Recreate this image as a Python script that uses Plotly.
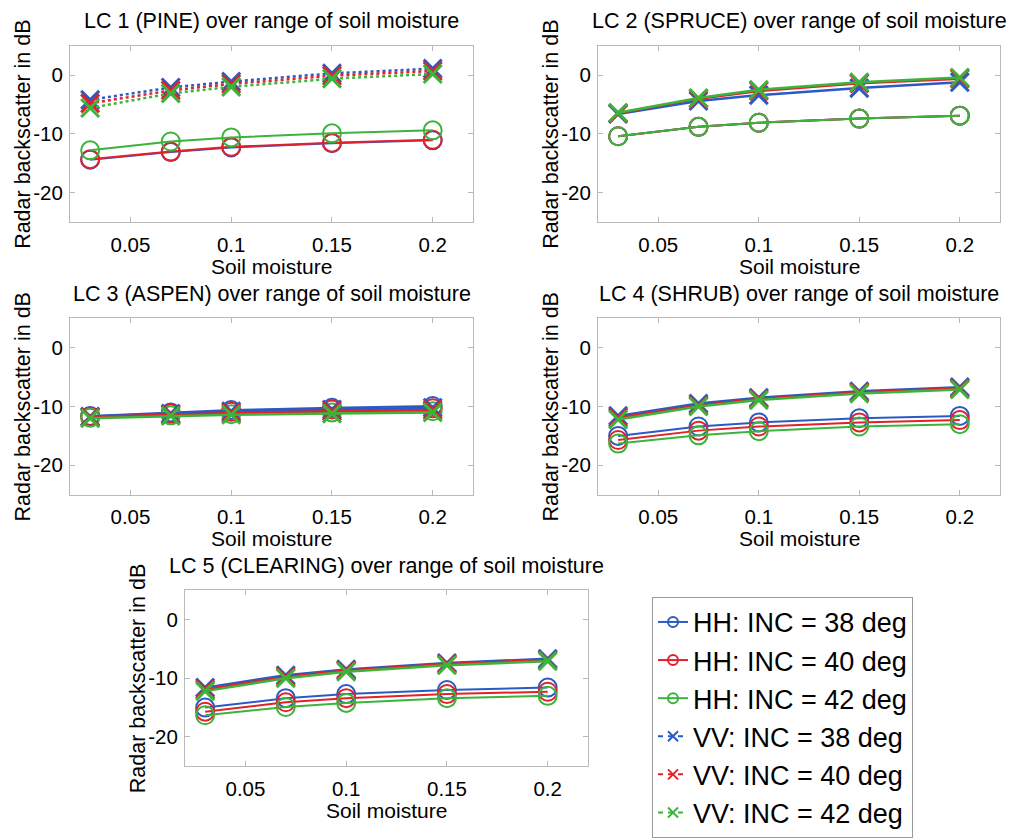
import plotly.graph_objects as go

# ---------------- data ----------------
soil_moisture = [0.03, 0.07, 0.1, 0.15, 0.2]

panel_titles = [
    "LC 1 (PINE) over range of soil moisture",
    "LC 2 (SPRUCE) over range of soil moisture",
    "LC 3 (ASPEN) over range of soil moisture",
    "LC 4 (SHRUB) over range of soil moisture",
    "LC 5 (CLEARING) over range of soil moisture",
]

series_names = [
    "HH: INC = 38 deg", "HH: INC = 40 deg", "HH: INC = 42 deg",
    "VV: INC = 38 deg", "VV: INC = 40 deg", "VV: INC = 42 deg",
]

# LC 1 PINE
pine_hh38 = [-14.4, -13.1, -12.3, -11.6, -11.1]
pine_hh40 = [-14.3, -13.0, -12.2, -11.5, -11.0]
pine_hh42 = [-12.8, -11.3, -10.6, -9.9, -9.4]
pine_vv38 = [-4.2, -2.1, -1.1, 0.3, 1.1]
pine_vv40 = [-4.8, -2.6, -1.5, -0.1, 0.7]
pine_vv42 = [-5.6, -3.1, -2.0, -0.6, 0.2]

# LC 2 SPRUCE
spruce_hh38 = [-10.4, -8.8, -8.1, -7.4, -6.9]
spruce_hh40 = [-10.4, -8.8, -8.1, -7.4, -6.9]
spruce_hh42 = [-10.4, -8.8, -8.1, -7.4, -6.9]
spruce_vv38 = [-6.6, -4.4, -3.4, -2.2, -1.2]
spruce_vv40 = [-6.5, -4.0, -2.7, -1.4, -0.6]
spruce_vv42 = [-6.4, -3.9, -2.5, -1.2, -0.4]

# LC 3 ASPEN
aspen_hh38 = [-11.6, -11.0, -10.6, -10.2, -9.9]
aspen_hh40 = [-11.7, -11.2, -10.9, -10.5, -10.3]
aspen_hh42 = [-11.9, -11.5, -11.3, -11.0, -10.8]
aspen_vv38 = [-11.7, -11.2, -10.8, -10.5, -10.2]
aspen_vv40 = [-11.8, -11.4, -11.1, -10.8, -10.6]
aspen_vv42 = [-12.0, -11.6, -11.4, -11.2, -11.0]

# LC 4 SHRUB
shrub_hh38 = [-15.0, -13.4, -12.7, -12.0, -11.6]
shrub_hh40 = [-15.7, -14.1, -13.4, -12.7, -12.3]
shrub_hh42 = [-16.3, -14.9, -14.2, -13.4, -13.0]
shrub_vv38 = [-11.6, -9.5, -8.5, -7.4, -6.7]
shrub_vv40 = [-11.9, -9.8, -8.7, -7.6, -6.9]
shrub_vv42 = [-12.2, -10.0, -8.9, -7.8, -7.1]

# LC 5 CLEARING
clearing_hh38 = [-15.0, -13.4, -12.7, -12.0, -11.6]
clearing_hh40 = [-15.7, -14.1, -13.4, -12.7, -12.3]
clearing_hh42 = [-16.3, -14.9, -14.2, -13.4, -13.0]
clearing_vv38 = [-11.6, -9.5, -8.5, -7.4, -6.7]
clearing_vv40 = [-11.9, -9.8, -8.7, -7.6, -6.9]
clearing_vv42 = [-12.2, -10.0, -8.9, -7.8, -7.1]

x_tick_vals = [0.05, 0.1, 0.15, 0.2]
x_tick_text = ["0.05", "0.1", "0.15", "0.2"]
y_tick_vals = [-20, -10, 0]
y_tick_text = ["-20", "-10", "0"]

x_label = "Soil moisture"
y_label = "Radar backscatter in dB"

panels = [
    [pine_hh38, pine_hh40, pine_hh42, pine_vv38, pine_vv40, pine_vv42],
    [spruce_hh38, spruce_hh40, spruce_hh42, spruce_vv38, spruce_vv40, spruce_vv42],
    [aspen_hh38, aspen_hh40, aspen_hh42, aspen_vv38, aspen_vv40, aspen_vv42],
    [shrub_hh38, shrub_hh40, shrub_hh42, shrub_vv38, shrub_vv40, shrub_vv42],
    [clearing_hh38, clearing_hh40, clearing_hh42, clearing_vv38, clearing_vv40, clearing_vv42],
]

# ---------------- styling / layout ----------------
W, H = 1023, 838
FONT = "Liberation Sans, Arial, Helvetica, sans-serif"
colors = ["#2a5bc4", "#e4202a", "#3cb43c", "#2a5bc4", "#e4202a", "#3cb43c"]
box_color = "#b9b9b9"

# pixel boxes: (left, right, top, bottom)
boxes = [
    (70, 473, 47, 228),
    (598, 1000, 47, 228),
    (70, 473, 327, 508),
    (598, 1000, 327, 508),
    (185, 588, 606, 787),
]


def px_x(p):
    return p / W


def px_y(p):
    return 1 - p / H


fig = go.Figure()

for i, series in enumerate(panels):
    ax = "" if i == 0 else str(i + 1)
    for j, vals in enumerate(series):
        is_hh = j < 3
        dash = "solid"
        if not is_hh and i == 0:
            dash = "dot"
        fig.add_trace(go.Scatter(
            x=soil_moisture, y=vals,
            xaxis="x" + ax, yaxis="y" + ax,
            mode="lines+markers",
            name=series_names[j],
            showlegend=False,
            line=dict(color=colors[j], width=2 if is_hh else 2.5, dash=dash),
            marker=dict(
                symbol="circle-open" if is_hh else "x-thin-open",
                size=18,
                color=colors[j],
                line=dict(width=2 if is_hh else 3, color=colors[j]),
            ),
        ))

# legend-only entries
for j, nm in enumerate(series_names):
    is_hh = j < 3
    fig.add_trace(go.Scatter(
        x=[None], y=[None], xaxis="x", yaxis="y",
        mode="lines+markers", name=nm, showlegend=True,
        line=dict(color=colors[j], width=2, dash="solid" if is_hh else "5px,5px"),
        marker=dict(symbol="circle-open" if is_hh else "x-thin-open",
                    size=10, color=colors[j],
                    line=dict(width=2, color=colors[j])),
    ))

layout = dict(
    width=W, height=H, autosize=False,
    margin=dict(l=0, r=0, t=0, b=0),
    paper_bgcolor="white", plot_bgcolor="white",
    font=dict(family=FONT, size=21, color="black"),
    showlegend=True,
    legend=dict(
        x=px_x(652), y=px_y(613), xanchor="left", yanchor="top",
        bgcolor="white", bordercolor="#9a9a9a", borderwidth=1,
        font=dict(family=FONT, size=27, color="black"),
        itemwidth=30, tracegroupgap=0,
    ),
)

annotations = []
for i, (l, r, t, b) in enumerate(boxes):
    ax = "" if i == 0 else str(i + 1)
    layout["xaxis" + ax] = dict(
        domain=[px_x(l), px_x(r)], anchor="y" + ax,
        range=[0.02, 0.22], tickvals=x_tick_vals, ticktext=x_tick_text,
        showgrid=False, zeroline=False, showline=True, linecolor=box_color,
        linewidth=1, mirror="ticks", ticks="inside", ticklen=5,
        tickcolor=box_color, tickfont=dict(size=20.5), ticklabelstandoff=4,
    )
    layout["yaxis" + ax] = dict(
        domain=[px_y(b), px_y(t)], anchor="x" + ax,
        range=[-25, 5], tickvals=y_tick_vals, ticktext=y_tick_text,
        showgrid=False, zeroline=False, showline=True, linecolor=box_color,
        linewidth=1, mirror="ticks", ticks="inside", ticklen=5,
        tickcolor=box_color, tickfont=dict(size=20.5), ticklabelstandoff=2,
    )
    cx = (l + r) / 2
    cy = (t + b) / 2
    annotations.append(dict(
        text=panel_titles[i], xref="paper", yref="paper",
        x=px_x(cx), y=px_y(t - 25), xanchor="center", yanchor="middle",
        showarrow=False, font=dict(size=21.5)))
    annotations.append(dict(
        text=x_label, xref="paper", yref="paper",
        x=px_x(cx), y=px_y(b + 45.5), xanchor="center", yanchor="middle",
        showarrow=False, font=dict(size=21)))
    annotations.append(dict(
        text=y_label, xref="paper", yref="paper", textangle=-90,
        x=px_x(l - 47), y=px_y(cy + 1), xanchor="center", yanchor="middle",
        showarrow=False, font=dict(size=21.5)))

layout["annotations"] = annotations
fig.update_layout(**layout)

fig.write_html(
    "out.html",
    config={"displayModeBar": False},
    post_script="document.body.style.margin='0';document.body.style.overflow='hidden';",
)
